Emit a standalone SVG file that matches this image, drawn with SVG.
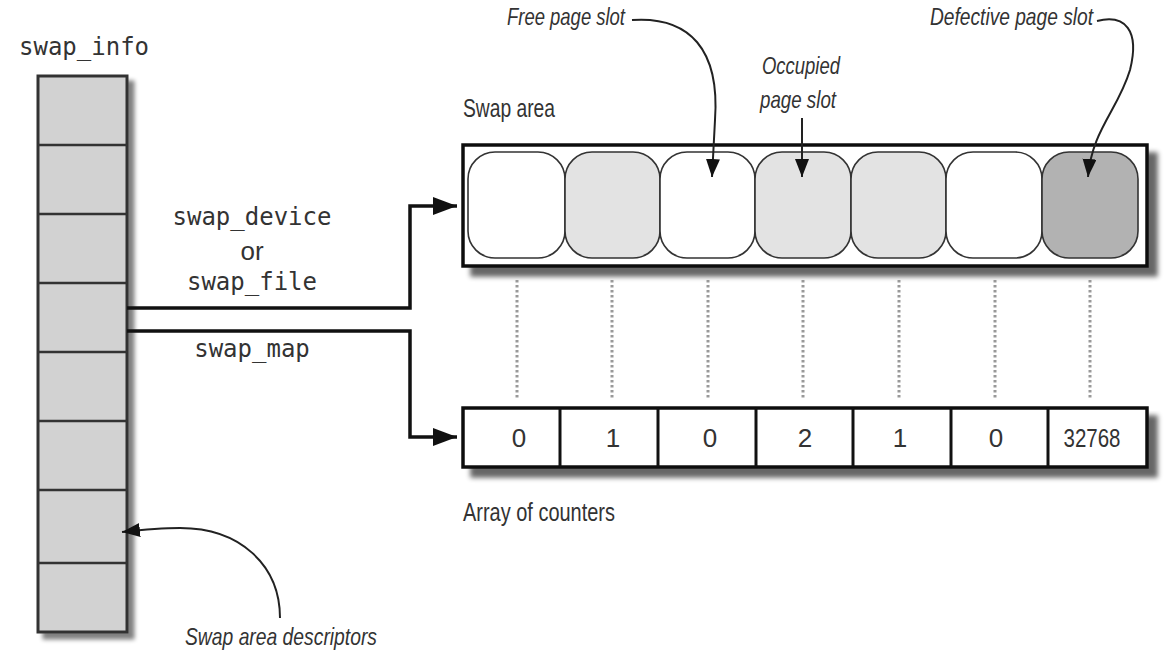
<svg xmlns="http://www.w3.org/2000/svg" width="1176" height="672" viewBox="0 0 1176 672">
  <style>
    .mono { font-family: "DejaVu Sans Mono", "Liberation Mono", monospace; font-size: 24px; fill: #333; }
    .cond { font-family: "Liberation Sans Narrow", "Liberation Sans", sans-serif; font-size: 26px; fill: #333; }
    .ital { font-family: "Liberation Sans Narrow", "Liberation Sans", sans-serif; font-size: 24px; font-style: italic; fill: #333; }
    .num { font-family: "Liberation Sans Narrow", "Liberation Sans", sans-serif; font-size: 26px; fill: #333; text-anchor: middle; }
    .cell { fill: #d2d2d2; stroke: #333; stroke-width: 3; }
    .slot { stroke: #333; stroke-width: 1.6; }
    .conn { fill: none; stroke: #111; stroke-width: 3.5; }
    .note { fill: none; stroke: #222; stroke-width: 2; }
    .dot { stroke: #999; stroke-width: 3; stroke-dasharray: 2.5 2.5; }
    .box { fill: #fff; stroke: #111; stroke-width: 3.5; }
  </style>
  <defs>
    <filter id="shadow" x="-10%" y="-10%" width="130%" height="150%">
      <feGaussianBlur in="SourceAlpha" stdDeviation="2.5"/>
      <feOffset dx="9" dy="9" result="b"/>
      <feComponentTransfer in="b" result="c"><feFuncA type="linear" slope="0.6"/></feComponentTransfer>
      <feMerge><feMergeNode in="c"/><feMergeNode in="SourceGraphic"/></feMerge>
    </filter>
    <filter id="shadowS" x="-10%" y="-10%" width="130%" height="120%">
      <feGaussianBlur in="SourceAlpha" stdDeviation="2"/>
      <feOffset dx="6" dy="6" result="b"/>
      <feComponentTransfer in="b" result="c"><feFuncA type="linear" slope="0.5"/></feComponentTransfer>
      <feMerge><feMergeNode in="c"/><feMergeNode in="SourceGraphic"/></feMerge>
    </filter>
    <marker id="bigArrow" markerUnits="userSpaceOnUse" markerWidth="26" markerHeight="20" refX="24" refY="9" orient="auto">
      <path d="M0,0 L24,9 L0,18 Z" fill="#111"/>
    </marker>
    <marker id="smallArrow" markerUnits="userSpaceOnUse" markerWidth="20" markerHeight="16" refX="18" refY="7" orient="auto">
      <path d="M0,0 L18,7 L0,14 Z" fill="#111"/>
    </marker>
  </defs>

  <!-- swap_info column -->
  <g id="swap_info">
    <text class="mono" x="19" y="55">swap_info</text>
    <g filter="url(#shadowS)">
      <rect class="cell" x="38" y="76" width="89" height="556"/>
    </g>
    <g stroke="#333" stroke-width="2.5">
      <line x1="38" y1="145" x2="127" y2="145"/>
      <line x1="38" y1="214" x2="127" y2="214"/>
      <line x1="38" y1="283" x2="127" y2="283"/>
      <line x1="38" y1="352" x2="127" y2="352"/>
      <line x1="38" y1="421" x2="127" y2="421"/>
      <line x1="38" y1="490" x2="127" y2="490"/>
      <line x1="38" y1="563" x2="127" y2="563"/>
    </g>
  </g>

  <!-- swap area -->
  <g id="swap_area">
    <text class="cond" x="463" y="117" textLength="92" lengthAdjust="spacingAndGlyphs">Swap area</text>
    <rect class="box" x="463" y="145" width="684" height="121" filter="url(#shadow)"/>
    <rect class="slot" x="468" y="152" width="97" height="106" rx="27" fill="#fff"/>
    <rect class="slot" x="565" y="152" width="95" height="106" rx="27" fill="#e3e3e3"/>
    <rect class="slot" x="660" y="152" width="95" height="106" rx="27" fill="#fff"/>
    <rect class="slot" x="755" y="152" width="96" height="106" rx="27" fill="#e3e3e3"/>
    <rect class="slot" x="851" y="152" width="95" height="106" rx="27" fill="#e3e3e3"/>
    <rect class="slot" x="946" y="152" width="96" height="106" rx="27" fill="#fff"/>
    <rect class="slot" x="1042" y="152" width="96" height="106" rx="27" fill="#b2b2b2"/>
  </g>

  <!-- counters array -->
  <g id="counters">
    <rect class="box" x="463" y="408" width="684" height="59" filter="url(#shadow)"/>
    <g stroke="#111" stroke-width="3">
      <line x1="560" y1="408" x2="560" y2="467"/>
      <line x1="658" y1="408" x2="658" y2="467"/>
      <line x1="756" y1="408" x2="756" y2="467"/>
      <line x1="853" y1="408" x2="853" y2="467"/>
      <line x1="951" y1="408" x2="951" y2="467"/>
      <line x1="1048" y1="408" x2="1048" y2="467"/>
    </g>
    <text class="num" x="519" y="447">0</text>
    <text class="num" x="613" y="447">1</text>
    <text class="num" x="710" y="447">0</text>
    <text class="num" x="805" y="447">2</text>
    <text class="num" x="900" y="447">1</text>
    <text class="num" x="996" y="447">0</text>
    <text class="num" x="1092" y="447" textLength="57" lengthAdjust="spacingAndGlyphs">32768</text>
    <text class="cond" x="463" y="521" textLength="152" lengthAdjust="spacingAndGlyphs">Array of counters</text>
  </g>

  <!-- labels -->
  <g id="label_free">
    <text class="ital" x="507" y="25" textLength="118" lengthAdjust="spacingAndGlyphs">Free page slot</text>
  </g>
  <g id="label_occupied">
    <text class="ital" x="762" y="74" textLength="78" lengthAdjust="spacingAndGlyphs">Occupied</text>
    <text class="ital" x="760" y="108" textLength="76" lengthAdjust="spacingAndGlyphs">page slot</text>
  </g>
  <g id="label_defective">
    <text class="ital" x="930" y="25" textLength="163" lengthAdjust="spacingAndGlyphs">Defective page slot</text>
  </g>
  <g id="label_descriptors">
    <text class="ital" x="185" y="645" textLength="192" lengthAdjust="spacingAndGlyphs">Swap area descriptors</text>
  </g>
  <g id="label_links">
    <text class="mono" x="252" y="225" text-anchor="middle">swap_device</text>
    <text class="cond" x="252" y="260" text-anchor="middle" font-size="24">or</text>
    <text class="mono" x="252" y="290" text-anchor="middle">swap_file</text>
    <text class="mono" x="252" y="357" text-anchor="middle">swap_map</text>
  </g>

  <!-- connectors -->
  <g id="connectors">
    <path class="conn" d="M127,308 H410 V206 H457" marker-end="url(#bigArrow)"/>
    <path class="conn" d="M127,331 H410 V437 H457" marker-end="url(#bigArrow)"/>
    <path class="note" d="M632,20 C690,16 720,50 715,120 L712,177" marker-end="url(#smallArrow)"/>
    <path class="note" d="M802,118 L802,177" marker-end="url(#smallArrow)"/>
    <path class="note" d="M1097,21 C1125,14 1140,30 1130,70 C1118,110 1092,130 1088,177" marker-end="url(#smallArrow)"/>
    <path class="note" d="M280,618 C280,565 240,528 180,528 C160,528 140,530 122,532" marker-end="url(#smallArrow)"/>
    <line class="dot" x1="517" y1="280" x2="517" y2="400"/>
    <line class="dot" x1="612" y1="280" x2="612" y2="400"/>
    <line class="dot" x1="708" y1="280" x2="708" y2="400"/>
    <line class="dot" x1="803" y1="280" x2="803" y2="400"/>
    <line class="dot" x1="899" y1="280" x2="899" y2="400"/>
    <line class="dot" x1="995" y1="280" x2="995" y2="400"/>
    <line class="dot" x1="1090" y1="280" x2="1090" y2="400"/>
  </g>
</svg>
